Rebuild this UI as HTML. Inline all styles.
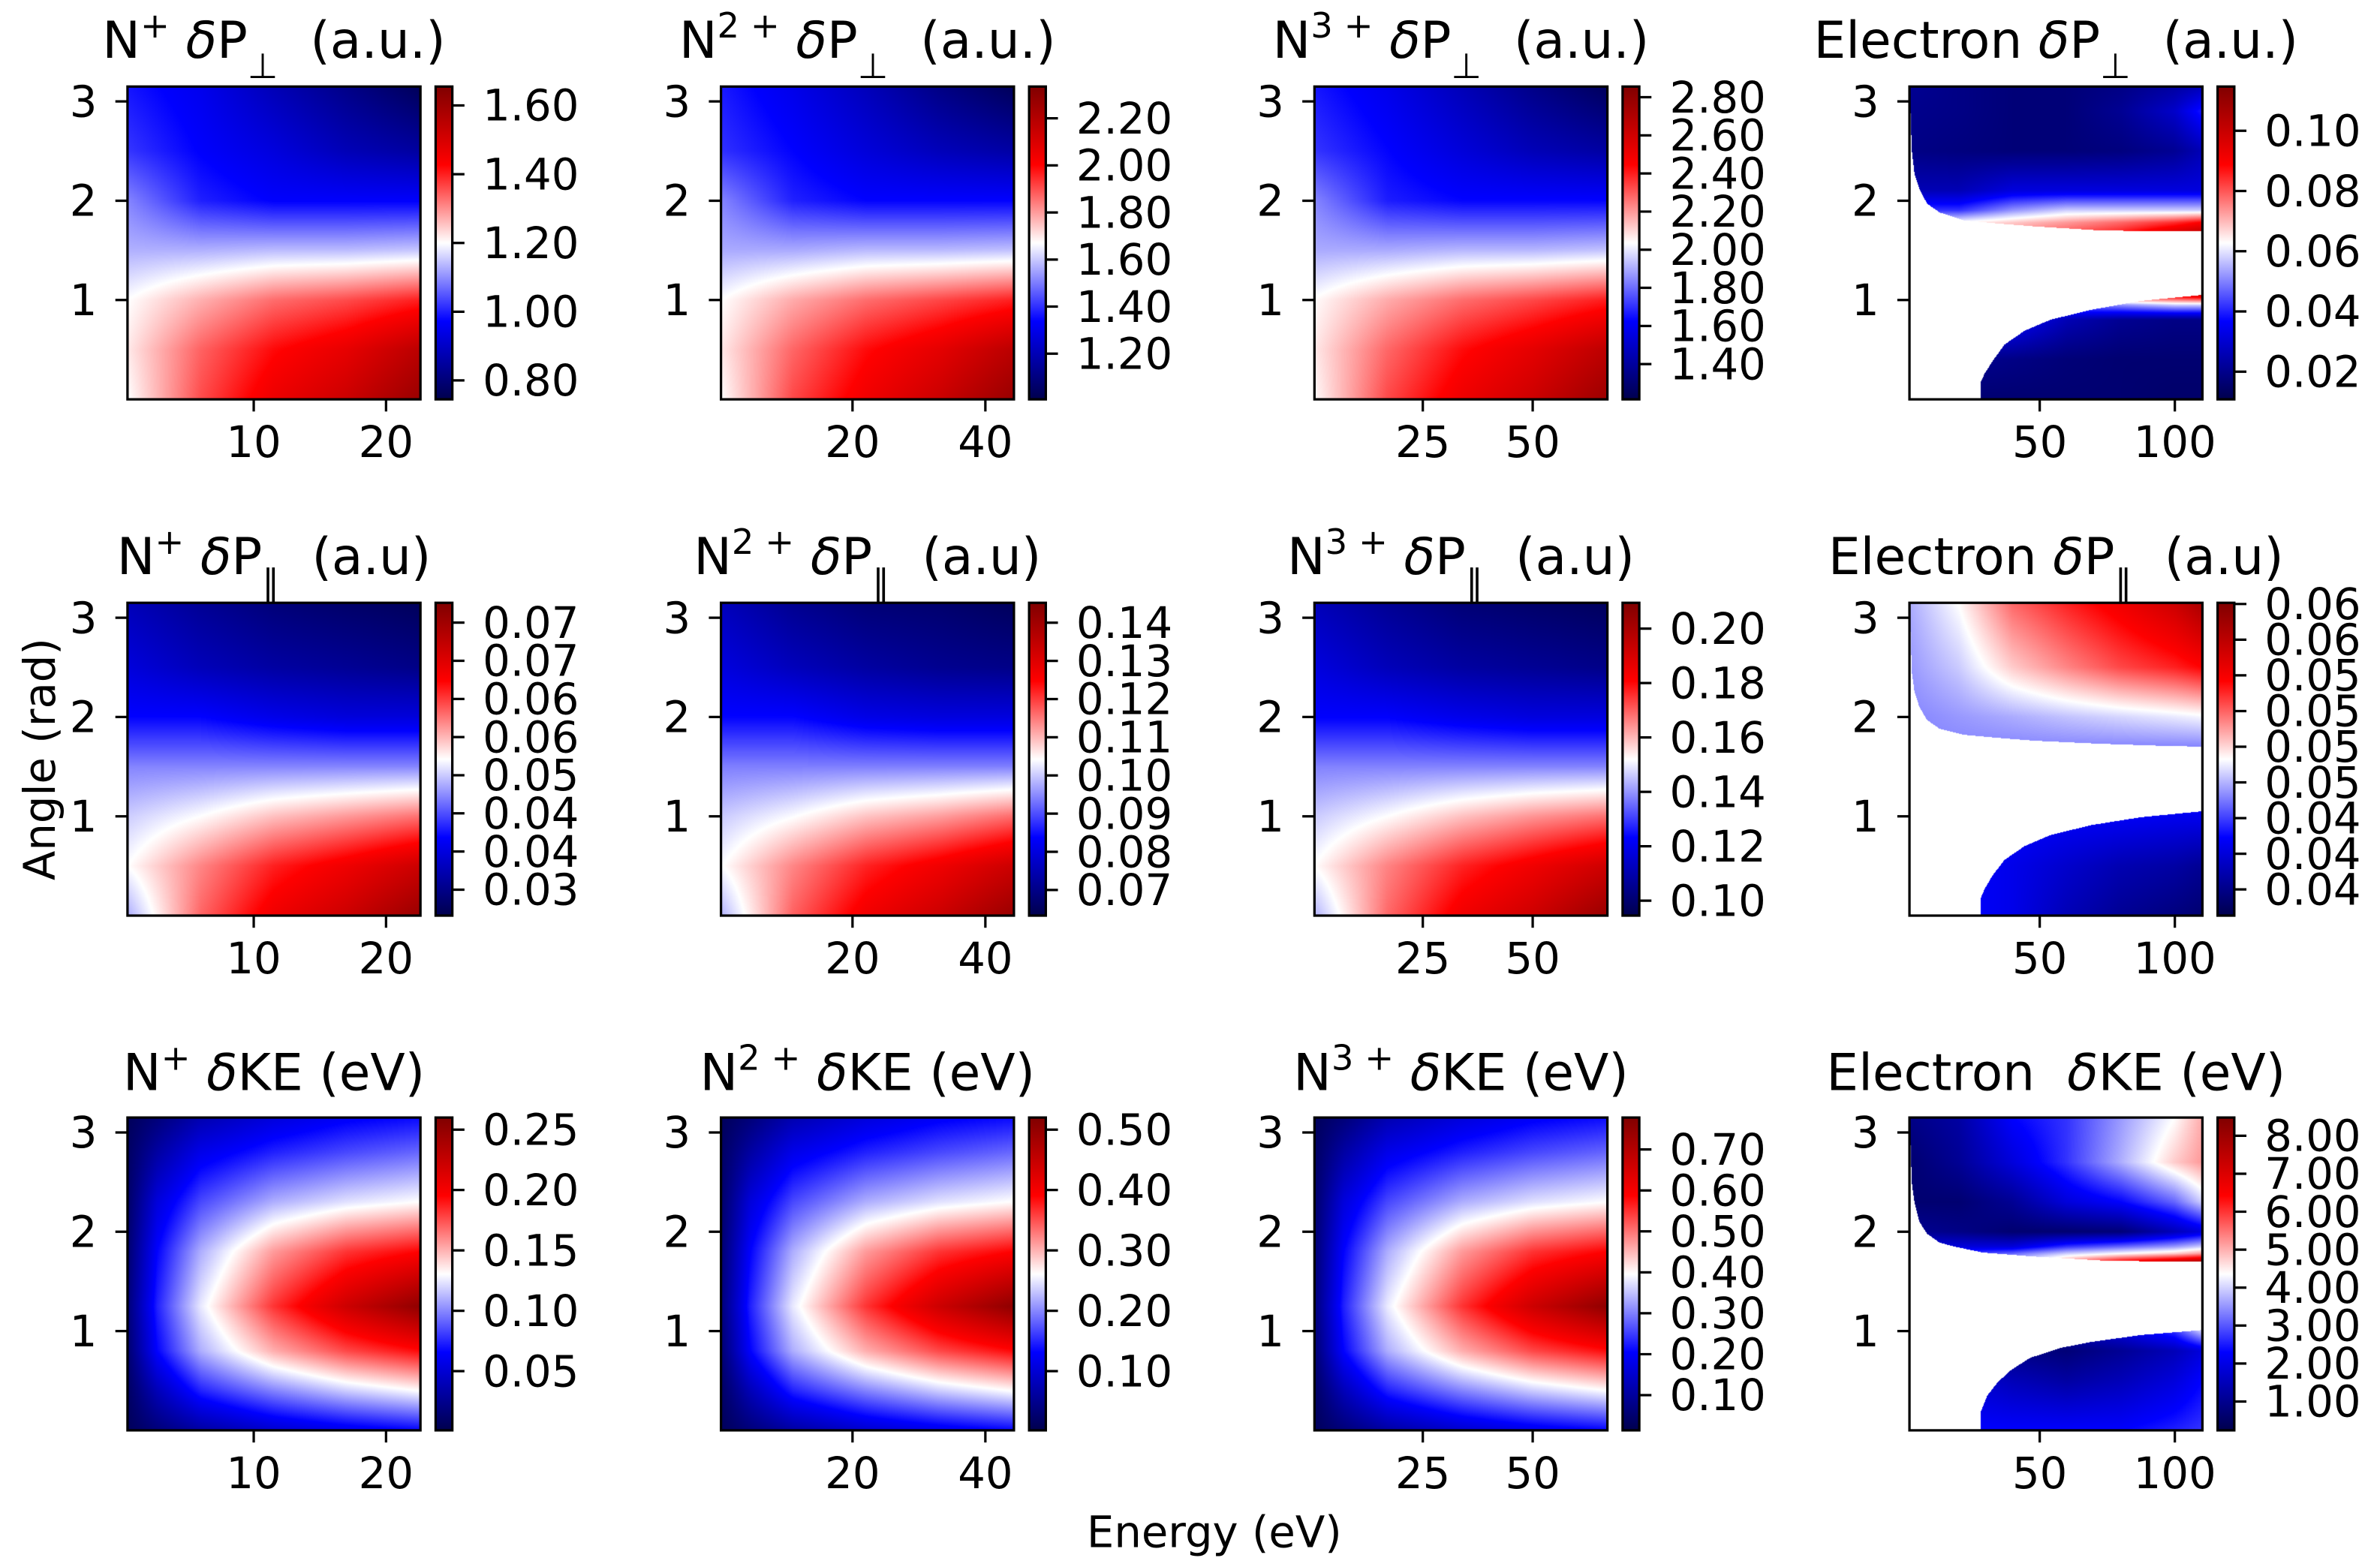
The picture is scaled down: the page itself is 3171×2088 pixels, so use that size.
<!DOCTYPE html>
<html><head><meta charset="utf-8">
<style>
html,body{margin:0;padding:0;background:#fff;}
#fig{position:relative;width:3171px;height:2088px;overflow:hidden;background:#fff;}
#fig canvas{position:absolute;}
#ov{position:absolute;left:0;top:0;}
text{font-family:"DejaVu Sans","Liberation Sans",sans-serif;fill:#000;}
</style></head>
<body>
<div id="fig">
<svg id="ov" width="3171" height="2088" viewBox="0 0 1568 1032" preserveAspectRatio="none">
<defs>
<linearGradient id="seis" x1="0" y1="1" x2="0" y2="0">
<stop offset="0" stop-color="rgb(0,0,77)"/><stop offset="0.25" stop-color="rgb(0,0,255)"/><stop offset="0.5" stop-color="rgb(255,255,255)"/><stop offset="0.75" stop-color="rgb(255,0,0)"/><stop offset="1" stop-color="rgb(128,0,0)"/>
</linearGradient>
</defs>
<g font-size="33.5" text-anchor="middle" xml:space="preserve">
<text x="180.5" y="38">N<tspan baseline-shift="super" font-size="23">+</tspan> <tspan font-style="italic">δ</tspan>P<tspan baseline-shift="sub" font-size="23">⊥</tspan>&#160; (a.u.)</text>
<text x="571.5" y="38">N<tspan baseline-shift="super" font-size="23">2 +</tspan> <tspan font-style="italic">δ</tspan>P<tspan baseline-shift="sub" font-size="23">⊥</tspan>&#160; (a.u.)</text>
<text x="962.5" y="38">N<tspan baseline-shift="super" font-size="23">3 +</tspan> <tspan font-style="italic">δ</tspan>P<tspan baseline-shift="sub" font-size="23">⊥</tspan>&#160; (a.u.)</text>
<text x="1354.5" y="38">Electron <tspan font-style="italic">δ</tspan>P<tspan baseline-shift="sub" font-size="23">⊥</tspan>&#160; (a.u.)</text>
<text x="180.5" y="378">N<tspan baseline-shift="super" font-size="23">+</tspan> <tspan font-style="italic">δ</tspan>P<tspan baseline-shift="sub" font-size="23">∥</tspan>&#160; (a.u)</text>
<text x="571.5" y="378">N<tspan baseline-shift="super" font-size="23">2 +</tspan> <tspan font-style="italic">δ</tspan>P<tspan baseline-shift="sub" font-size="23">∥</tspan>&#160; (a.u)</text>
<text x="962.5" y="378">N<tspan baseline-shift="super" font-size="23">3 +</tspan> <tspan font-style="italic">δ</tspan>P<tspan baseline-shift="sub" font-size="23">∥</tspan>&#160; (a.u)</text>
<text x="1354.5" y="378">Electron <tspan font-style="italic">δ</tspan>P<tspan baseline-shift="sub" font-size="23">∥</tspan>&#160; (a.u)</text>
<text x="180.5" y="718">N<tspan baseline-shift="super" font-size="23">+</tspan> <tspan font-style="italic">δ</tspan>KE (eV)</text>
<text x="571.5" y="718">N<tspan baseline-shift="super" font-size="23">2 +</tspan> <tspan font-style="italic">δ</tspan>KE (eV)</text>
<text x="962.5" y="718">N<tspan baseline-shift="super" font-size="23">3 +</tspan> <tspan font-style="italic">δ</tspan>KE (eV)</text>
<text x="1354.5" y="718">Electron&#160; <tspan font-style="italic">δ</tspan>KE (eV)</text>
</g>
<g font-size="28.5" text-anchor="middle">
<text x="800" y="1019">Energy (eV)</text>
<text x="0" y="0" transform="translate(36,500) rotate(-90)">Angle (rad)</text>
</g>
<g id="axes"></g>
</svg>
</div>
<script>
// ---------- data ----------
const angleTicks = [1, 2, 3];
const ionAnglesP = [0, 0.5, 1.0, 1.5, 2.0, 2.5, 3.15];
const ionAnglesKE = [0, 0.4, 0.8, 1.25, 1.8, 2.3, 2.8, 3.15];

const c1XTicks = [10, 20];
const c2XTicks = [20, 40];
const c3XTicks = [25, 50];
const c4XTicks = [50, 100];

const c1Energy5 = [0.5, 6, 11.5, 17, 22.6];
const c2Energy5 = [0.2, 11, 22, 33, 44];
const c3Energy5 = [0.35, 17, 34, 50, 67];
const c1Energy6 = [0.5, 2.7, 6, 11.5, 17, 22.6];
const c2Energy6 = [0.2, 4.6, 11, 22, 33, 44];
const c3Energy6 = [0.35, 7, 17, 34, 50, 67];
const eEnergy = [2, 20, 40, 60, 80, 100, 110];

// Row 1: dP_perp
const r1c1Values = [
 [1.20,1.36,1.46,1.52,1.61],[1.22,1.34,1.42,1.47,1.55],[1.20,1.27,1.33,1.36,1.40],
 [1.13,1.13,1.14,1.14,1.15],[1.09,1.00,0.97,0.97,0.97],[1.02,0.97,0.93,0.88,0.85],[0.99,0.95,0.88,0.82,0.76]];
const r1c2Values = [
 [1.67,1.91,2.04,2.14,2.27],[1.70,1.87,1.99,2.07,2.18],[1.67,1.78,1.86,1.91,1.96],
 [1.56,1.56,1.58,1.58,1.59],[1.51,1.38,1.34,1.34,1.34],[1.40,1.34,1.27,1.21,1.17],[1.37,1.30,1.21,1.11,1.03]];
const r1c3Values = [
 [2.04,2.33,2.50,2.61,2.77],[2.07,2.28,2.43,2.53,2.66],[2.04,2.17,2.27,2.33,2.40],
 [1.90,1.90,1.92,1.92,1.94],[1.84,1.67,1.63,1.63,1.63],[1.71,1.63,1.54,1.46,1.41],[1.66,1.58,1.46,1.35,1.25]];
const r1c4Angles = [0, 0.4, 0.8, 0.95, 1.05, 1.7, 1.78, 1.9, 2.1, 2.5, 2.9, 3.15];
const r1c4Values = [
 [.016,.016,.016,.016,.016,.015,.015],[.021,.021,.019,.017,.016,.016,.016],
 [.037,.037,.037,.026,.021,.019,.019],[.042,.042,.042,.047,.052,.058,.058],
 [.063,.063,.063,.073,.089,.094,.099],[.073,.073,.073,.078,.084,.094,.099],
 [.063,.063,.068,.073,.078,.084,.089],[.042,.042,.052,.058,.058,.058,.058],
 [.026,.026,.032,.032,.032,.032,.032],[.019,.018,.017,.017,.018,.021,.026],
 [.020,.019,.017,.017,.021,.029,.039],[.021,.019,.017,.017,.019,.023,.026]];
const r1c4UpperE = [1.8, 2.7, 3.7, 5.5, 8.3, 13, 22, 34, 48, 72, 94, 110.2];
const r1c4UpperA = [3.2, 2.5, 2.27, 2.12, 1.97, 1.88, 1.80, 1.77, 1.74, 1.70, 1.69, 1.69];
const r1c4LowerE = [1.8, 28.2, 28.3, 29.7, 32.5, 37, 44.5, 54, 69, 87.5, 110.2];
const r1c4LowerA = [-1, -0.01, 0.18, 0.26, 0.38, 0.55, 0.69, 0.80, 0.90, 0.99, 1.05];

// Row 2: dP_par
const r2c1Values = [
 [.0538,.0633,.0686,.0715,.0756],[.0571,.0620,.0661,.0686,.0715],[.0551,.0571,.0596,.0612,.0628],
 [.0522,.0522,.0522,.0522,.0522],[.0469,.0469,.0456,.0448,.0448],[.0448,.0428,.0415,.0407,.0399],[.0428,.0407,.0391,.0382,.0374]];
const r2c2Values = [
 [.098,.117,.127,.133,.141],[.104,.114,.122,.127,.133],[.100,.104,.109,.112,.116],
 [.094,.094,.094,.094,.094],[.084,.084,.081,.080,.080],[.080,.076,.073,.071,.070],[.076,.071,.068,.067,.065]];
const r2c3Values = [
 [.143,.169,.184,.192,.204],[.152,.166,.177,.184,.192],[.146,.152,.159,.164,.168],
 [.138,.138,.138,.138,.138],[.123,.123,.120,.118,.118],[.118,.112,.108,.106,.104],[.112,.106,.101,.099,.097]];
const r2c4Angles = [0, 0.5, 1.05, 1.7, 2.0, 2.5, 3.15];
const r2c4Values = [
 [.0424,.0424,.0416,.0397,.0384,.0376,.0371],[.0424,.0424,.0416,.0405,.0395,.0390,.0384],
 [.0429,.0429,.0426,.0424,.0424,.0421,.0421],[.0458,.0458,.0458,.0458,.0458,.0458,.0458],
 [.0458,.0463,.0468,.0474,.0479,.0484,.0487],[.0463,.0476,.0503,.0521,.0537,.0547,.0555],
 [.0468,.0490,.0529,.0547,.0563,.0582,.0600]];
const r2c4UpperE = [1.8, 2.7, 3.7, 5.5, 8.3, 13, 22, 34, 48, 72, 94, 110.2];
const r2c4UpperA = [3.2, 2.45, 2.25, 2.1, 1.97, 1.88, 1.82, 1.79, 1.76, 1.73, 1.71, 1.70];
const r2c4LowerE = [1.8, 28.2, 28.3, 29.7, 32.5, 37, 44.5, 54, 69, 87.5, 110.2];
const r2c4LowerA = [-1, -0.01, 0.18, 0.27, 0.40, 0.56, 0.70, 0.81, 0.91, 0.99, 1.05];

// Row 3: dKE
const r3c1Values = [
 [.006,.017,.032,.048,.058,.066],[.009,.040,.074,.099,.118,.131],[.014,.066,.110,.151,.177,.193],
 [.017,.074,.125,.182,.221,.252],[.014,.066,.110,.156,.182,.195],[.011,.053,.084,.110,.123,.131],
 [.009,.032,.058,.074,.084,.092],[.006,.017,.037,.053,.063,.068]];
const r3c2Values = [
 [.012,.034,.064,.096,.116,.132],[.018,.080,.148,.198,.236,.262],[.028,.132,.220,.302,.354,.386],
 [.034,.148,.250,.364,.442,.504],[.028,.132,.220,.312,.364,.390],[.022,.106,.168,.220,.246,.262],
 [.018,.064,.116,.148,.168,.184],[.012,.034,.074,.106,.126,.136]];
const r3c3Values = [
 [.029,.060,.106,.152,.182,.205],[.037,.129,.228,.304,.358,.396],[.052,.205,.335,.457,.534,.579],
 [.060,.228,.381,.549,.663,.755],[.052,.205,.335,.472,.549,.587],[.045,.167,.258,.335,.373,.396],
 [.037,.106,.182,.228,.258,.281],[.029,.060,.121,.167,.197,.213]];
const r3c4Angles = [0, 0.5, 0.8, 1.0, 1.7, 1.78, 1.85, 2.0, 2.3, 2.7, 3.15];
const r3c4Values = [
 [2.30,2.30,2.30,2.30,2.30,2.55,2.71],[1.89,1.89,1.48,1.23,1.48,1.89,2.30],
 [1.06,1.06,0.90,0.73,1.06,1.48,1.89],[1.48,1.48,1.48,1.48,1.89,2.71,3.95],
 [3.54,3.54,3.95,5.18,6.42,7.24,7.66],[2.71,2.71,3.12,3.95,4.36,4.77,5.18],
 [1.89,1.89,1.89,2.71,3.12,3.54,3.95],[1.06,0.90,0.65,0.65,0.73,1.48,1.89],
 [0.65,0.65,1.06,1.89,2.30,3.12,3.95],[0.65,1.06,1.89,2.71,3.70,4.77,5.18],
 [0.90,1.23,2.30,2.71,3.54,4.36,5.02]];
const r3c4UpperE = [1.8, 2.7, 3.7, 5.5, 8.3, 13, 18.5, 29, 48, 73, 94, 110.2];
const r3c4UpperA = [3.2, 2.49, 2.29, 2.10, 1.98, 1.89, 1.85, 1.79, 1.75, 1.71, 1.70, 1.70];
const r3c4LowerE = [1.8, 28.2, 28.3, 30.6, 34.4, 39, 46.5, 57.7, 69, 87.5, 110.2];
const r3c4LowerA = [-1, -0.01, 0.19, 0.35, 0.48, 0.60, 0.73, 0.83, 0.89, 0.96, 1.01];

// colorbar ticks
const r1c1CbTicks = [0.8, 1.0, 1.2, 1.4, 1.6];
const r1c1CbLabels = ['0.80','1.00','1.20','1.40','1.60'];
const r1c2CbTicks = [1.2, 1.4, 1.6, 1.8, 2.0, 2.2];
const r1c2CbLabels = ['1.20','1.40','1.60','1.80','2.00','2.20'];
const r1c3CbTicks = [1.4, 1.6, 1.8, 2.0, 2.2, 2.4, 2.6, 2.8];
const r1c3CbLabels = ['1.40','1.60','1.80','2.00','2.20','2.40','2.60','2.80'];
const r1c4CbTicks = [0.02, 0.04, 0.06, 0.08, 0.10];
const r1c4CbLabels = ['0.02','0.04','0.06','0.08','0.10'];
const r2c1CbTicks = [0.040, 0.045, 0.050, 0.055, 0.060, 0.065, 0.070, 0.075];
const r2c1CbLabels = ['0.03','0.04','0.04','0.05','0.06','0.06','0.07','0.07'];
const r2c2CbTicks = [0.07, 0.08, 0.09, 0.10, 0.11, 0.12, 0.13, 0.14];
const r2c2CbLabels = ['0.07','0.08','0.09','0.10','0.11','0.12','0.13','0.14'];
const r2c3CbTicks = [0.10, 0.12, 0.14, 0.16, 0.18, 0.20];
const r2c3CbLabels = ['0.10','0.12','0.14','0.16','0.18','0.20'];
const r2c4CbTicks = [0.038, 0.041, 0.044, 0.047, 0.050, 0.053, 0.056, 0.059, 0.062];
const r2c4CbLabels = ['0.04','0.04','0.04','0.05','0.05','0.05','0.05','0.06','0.06'];
const r3c1CbTicks = [0.05, 0.10, 0.15, 0.20, 0.25];
const r3c1CbLabels = ['0.05','0.10','0.15','0.20','0.25'];
const r3c2CbTicks = [0.1, 0.2, 0.3, 0.4, 0.5];
const r3c2CbLabels = ['0.10','0.20','0.30','0.40','0.50'];
const r3c3CbTicks = [0.1, 0.2, 0.3, 0.4, 0.5, 0.6, 0.7];
const r3c3CbLabels = ['0.10','0.20','0.30','0.40','0.50','0.60','0.70'];
const r3c4CbTicks = [1, 2, 3, 4, 5, 6, 7, 8];
const r3c4CbLabels = ['1.00','2.00','3.00','4.00','5.00','6.00','7.00','8.00'];

// ---------- layout ----------
const SX = 3171 / 1568, SY = 2088 / 1032;
const colX = [84, 475, 866, 1258], rowY = [57, 397, 736];
const PW = 193, PH = 206, CBOFF = 203, CBW = 11;
const xDomains = [[0.46, 22.6], [0.2, 44.3], [0.35, 67], [1.8, 110.2]];
const yDomain = [0, 3.15];
const xTickSets = [c1XTicks, c2XTicks, c3XTicks, c4XTicks];

const panels = [
 {r:0,c:0,E:c1Energy5,A:ionAnglesP,V:r1c1Values,vmin:0.745,vmax:1.655,ct:r1c1CbTicks,cl:r1c1CbLabels},
 {r:0,c:1,E:c2Energy5,A:ionAnglesP,V:r1c2Values,vmin:1.006,vmax:2.335,ct:r1c2CbTicks,cl:r1c2CbLabels},
 {r:0,c:2,E:c3Energy5,A:ionAnglesP,V:r1c3Values,vmin:1.215,vmax:2.856,ct:r1c3CbTicks,cl:r1c3CbLabels},
 {r:0,c:3,E:eEnergy,A:r1c4Angles,V:r1c4Values,vmin:0.0108,vmax:0.1147,ct:r1c4CbTicks,cl:r1c4CbLabels,
  uE:r1c4UpperE,uA:r1c4UpperA,lE:r1c4LowerE,lA:r1c4LowerA},
 {r:1,c:0,E:c1Energy5,A:ionAnglesP,V:r2c1Values,vmin:0.0366,vmax:0.0776,ct:r2c1CbTicks,cl:r2c1CbLabels},
 {r:1,c:1,E:c2Energy5,A:ionAnglesP,V:r2c2Values,vmin:0.0633,vmax:0.1452,ct:r2c2CbTicks,cl:r2c2CbLabels},
 {r:1,c:2,E:c3Energy5,A:ionAnglesP,V:r2c3Values,vmin:0.0945,vmax:0.2095,ct:r2c3CbTicks,cl:r2c3CbLabels},
 {r:1,c:3,E:eEnergy,A:r2c4Angles,V:r2c4Values,vmin:0.0358,vmax:0.0621,ct:r2c4CbTicks,cl:r2c4CbLabels,
  uE:r2c4UpperE,uA:r2c4UpperA,lE:r2c4LowerE,lA:r2c4LowerA},
 {r:2,c:0,E:c1Energy6,A:ionAnglesKE,V:r3c1Values,vmin:0.001,vmax:0.26,ct:r3c1CbTicks,cl:r3c1CbLabels},
 {r:2,c:1,E:c2Energy6,A:ionAnglesKE,V:r3c2Values,vmin:0.002,vmax:0.52,ct:r3c2CbTicks,cl:r3c2CbLabels},
 {r:2,c:2,E:c3Energy6,A:ionAnglesKE,V:r3c3Values,vmin:0.014,vmax:0.778,ct:r3c3CbTicks,cl:r3c3CbLabels},
 {r:2,c:3,E:eEnergy,A:r3c4Angles,V:r3c4Values,vmin:0.24,vmax:8.48,ct:r3c4CbTicks,cl:r3c4CbLabels,
  uE:r3c4UpperE,uA:r3c4UpperA,lE:r3c4LowerE,lA:r3c4LowerA}
];

function seismic(t) {
  t = Math.max(0, Math.min(1, t));
  const st = [[0,0,77],[0,0,255],[255,255,255],[255,0,0],[128,0,0]];
  const f = t * 4, i = Math.min(3, Math.floor(f)), u = f - i;
  const a = st[i], b = st[i+1];
  return [a[0]+(b[0]-a[0])*u, a[1]+(b[1]-a[1])*u, a[2]+(b[2]-a[2])*u];
}
function locate(arr, x) {
  if (x <= arr[0]) return [0, 0];
  const n = arr.length;
  if (x >= arr[n-1]) return [n-2, 1];
  let i = 0; while (i < n-2 && x > arr[i+1]) i++;
  return [i, (x - arr[i]) / (arr[i+1] - arr[i])];
}
function interp1(xs, ys, x) { const [i, u] = locate(xs, x); return ys[i] + (ys[i+1]-ys[i])*u; }
function bilinear(E, A, V, e, a) {
  const [i, u] = locate(E, e), [j, w] = locate(A, a);
  const v00 = V[j][i], v01 = V[j][i+1], v10 = V[j+1][i], v11 = V[j+1][i+1];
  return (v00*(1-u) + v01*u)*(1-w) + (v10*(1-u) + v11*u)*w;
}

const fig = document.getElementById('fig');
const axesG = document.getElementById('axes');
const NS = axesG.namespaceURI;
function mk(tag, attrs) {
  const e = document.createElementNS(NS, tag);
  for (const k in attrs) e.setAttribute(k, attrs[k]);
  axesG.appendChild(e);
  return e;
}

panels.forEach(p => {
  const x0 = colX[p.c], y0 = rowY[p.r];
  const xd = xDomains[p.c];
  const xs = e => x0 + (e - xd[0]) / (xd[1] - xd[0]) * PW;
  const ys = a => y0 + PH - (a - yDomain[0]) / (yDomain[1] - yDomain[0]) * PH;
  const tag = 'r' + (p.r+1) + 'c' + (p.c+1);

  const cv = document.createElement('canvas');
  
  
  const L = Math.round(x0 * SX), T = Math.round(y0 * SY);
  const W = Math.round((x0 + PW) * SX) - L, H = Math.round((y0 + PH) * SY) - T;
  cv.width = W; cv.height = H;
  cv.style.left = L + 'px'; cv.style.top = T + 'px';
  fig.insertBefore(cv, fig.firstChild);
  const ctx = cv.getContext('2d');
  const img = ctx.createImageData(W, H);
  for (let py = 0; py < H; py++) {
    const a = yDomain[1] - (py + 0.5) / H * (yDomain[1] - yDomain[0]);
    for (let px = 0; px < W; px++) {
      const e = xd[0] + (px + 0.5) / W * (xd[1] - xd[0]);
      let col = [255,255,255];
      let show = true;
      if (p.uE) {
        show = a >= interp1(p.uE, p.uA, e) || a <= interp1(p.lE, p.lA, e);
      }
      if (show) {
        const v = bilinear(p.E, p.A, p.V, e, a);
        col = seismic((v - p.vmin) / (p.vmax - p.vmin));
      }
      const k = (py * W + px) * 4;
      img.data[k] = col[0]; img.data[k+1] = col[1]; img.data[k+2] = col[2]; img.data[k+3] = 255;
    }
  }
  ctx.putImageData(img, 0, 0);

  const fr = mk('rect', {x:x0, y:y0, width:PW, height:PH, fill:'none', stroke:'#000', 'stroke-width':1.6});
  
  

  angleTicks.forEach(t => {
    const y = ys(t);
    const tk = mk('line', {x1:x0-8, x2:x0, y1:y, y2:y, stroke:'#000', 'stroke-width':1.6});
    
    
    const lb = mk('text', {x:x0-20, y:y+10, 'font-size':28.5, 'text-anchor':'end'});
    lb.textContent = String(t);
    
    
  });
  xTickSets[p.c].forEach(t => {
    const x = xs(t);
    const tk = mk('line', {x1:x, x2:x, y1:y0+PH, y2:y0+PH+8, stroke:'#000', 'stroke-width':1.6});
    
    
    const lb = mk('text', {x:x, y:y0+PH+38, 'font-size':28.5, 'text-anchor':'middle'});
    lb.textContent = String(t);
    
    
  });

  const cx = x0 + CBOFF;
  const cb = mk('rect', {x:cx, y:y0, width:CBW, height:PH, fill:'url(#seis)', stroke:'#000', 'stroke-width':1.6});
  
  
  const cs = v => y0 + PH - (v - p.vmin) / (p.vmax - p.vmin) * PH;
  p.ct.forEach((v, i) => {
    const y = cs(v);
    const tk = mk('line', {x1:cx+CBW, x2:cx+CBW+8, y1:y, y2:y, stroke:'#000', 'stroke-width':1.6});
    
    
    const lb = mk('text', {x:cx+CBW+20, y:y+10, 'font-size':28.5, 'text-anchor':'start'});
    lb.textContent = p.cl[i];
    
    
  });
});
</script>
</body></html>
